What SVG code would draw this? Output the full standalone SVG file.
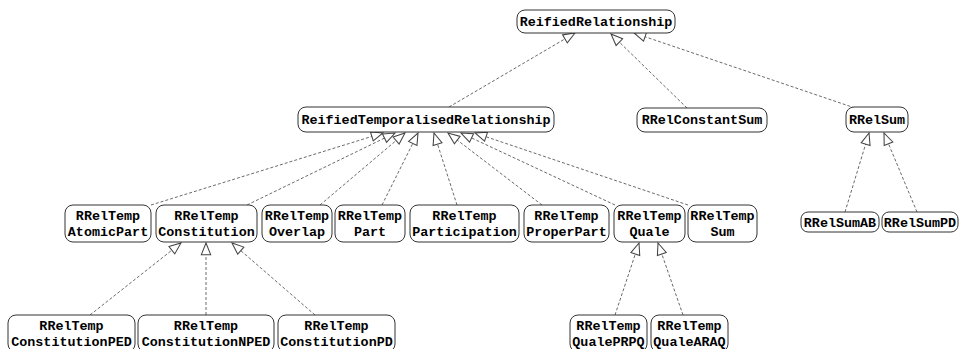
<svg xmlns="http://www.w3.org/2000/svg" width="960" height="349" viewBox="0 0 960 349">
  <style>
    .node rect { fill: #ffffff; stroke: #333333; stroke-width: 1; }
    .node text { font-family: "Liberation Mono", "DejaVu Sans Mono", monospace; font-weight: bold; font-size: 13.4px; fill: #000000; text-anchor: middle; }
    .edge { fill: none; stroke: #444444; stroke-width: 0.8; stroke-dasharray: 3,2; marker-end: url(#hollow); }
  </style>
  <defs>
    <marker id="hollow" markerUnits="userSpaceOnUse" markerWidth="14" markerHeight="12" viewBox="0 0 12 10" refX="11" refY="5" orient="auto">
      <path d="M1,1 L11,5 L1,9 Z" fill="#ffffff" stroke="#444444" stroke-width="0.9"/>
    </marker>
  </defs>

  <!-- inheritance connectors (child to parent) -->
  <g id="edges">
    <path class="edge" d="M449,107 L575,33"/>
    <path class="edge" d="M687,108 L611,34"/>
    <path class="edge" d="M855,108 L634,33"/>

    <path class="edge" d="M151,205 L383,133"/>
    <path class="edge" d="M247,205 L395,133"/>
    <path class="edge" d="M320,205 L405,133"/>
    <path class="edge" d="M382,205 L418,133"/>
    <path class="edge" d="M457,205 L434,133"/>
    <path class="edge" d="M542,205 L448,133"/>
    <path class="edge" d="M615,205 L461,133"/>
    <path class="edge" d="M688,205 L475,133"/>

    <path class="edge" d="M845,212 L869,133"/>
    <path class="edge" d="M917,212 L884,133"/>

    <path class="edge" d="M90,315 L181,243"/>
    <path class="edge" d="M206,315 L206,243"/>
    <path class="edge" d="M315,315 L232,243"/>

    <path class="edge" d="M615,315 L639,243"/>
    <path class="edge" d="M683,315 L658,243"/>
  </g>

  <g id="ReifiedRelationship" class="node">
    <rect x="517" y="10" width="158" height="23" rx="8"/>
    <text x="596" y="26">ReifiedRelationship</text>
  </g>

  <g id="ReifiedTemporalisedRelationship" class="node">
    <rect x="298" y="107" width="256" height="25" rx="8"/>
    <text x="426" y="124">ReifiedTemporalisedRelationship</text>
  </g>
  <g id="RRelConstantSum" class="node">
    <rect x="637" y="108" width="130" height="24" rx="8"/>
    <text x="702" y="124">RRelConstantSum</text>
  </g>
  <g id="RRelSum" class="node">
    <rect x="846" y="107" width="62" height="25" rx="8"/>
    <text x="877" y="124">RRelSum</text>
  </g>

  <g id="RRelTempAtomicPart" class="node">
    <rect x="65" y="205" width="86" height="37" rx="8"/>
    <text x="108" y="220">RRelTemp</text>
    <text x="108" y="236">AtomicPart</text>
  </g>
  <g id="RRelTempConstitution" class="node">
    <rect x="156" y="205" width="101" height="37" rx="8"/>
    <text x="206.5" y="220">RRelTemp</text>
    <text x="206.5" y="236">Constitution</text>
  </g>
  <g id="RRelTempOverlap" class="node">
    <rect x="262" y="205" width="70" height="37" rx="8"/>
    <text x="297" y="220">RRelTemp</text>
    <text x="297" y="236">Overlap</text>
  </g>
  <g id="RRelTempPart" class="node">
    <rect x="335" y="205" width="70" height="37" rx="8"/>
    <text x="370" y="220">RRelTemp</text>
    <text x="370" y="236">Part</text>
  </g>
  <g id="RRelTempParticipation" class="node">
    <rect x="410" y="205" width="109" height="37" rx="8"/>
    <text x="464.5" y="220">RRelTemp</text>
    <text x="464.5" y="236">Participation</text>
  </g>
  <g id="RRelTempProperPart" class="node">
    <rect x="524" y="205" width="85" height="37" rx="8"/>
    <text x="566.5" y="220">RRelTemp</text>
    <text x="566.5" y="236">ProperPart</text>
  </g>
  <g id="RRelTempQuale" class="node">
    <rect x="614" y="205" width="71" height="37" rx="8"/>
    <text x="649.5" y="220">RRelTemp</text>
    <text x="649.5" y="236">Quale</text>
  </g>
  <g id="RRelTempSum" class="node">
    <rect x="688" y="205" width="69" height="37" rx="8"/>
    <text x="722.5" y="220">RRelTemp</text>
    <text x="722.5" y="236">Sum</text>
  </g>

  <g id="RRelSumAB" class="node">
    <rect x="801" y="212" width="78" height="20" rx="7"/>
    <text x="840" y="227">RRelSumAB</text>
  </g>
  <g id="RRelSumPD" class="node">
    <rect x="882" y="212" width="76" height="20" rx="7"/>
    <text x="920" y="227">RRelSumPD</text>
  </g>

  <g id="RRelTempConstitutionPED" class="node">
    <rect x="8" y="315" width="127" height="37" rx="8"/>
    <text x="71.5" y="330">RRelTemp</text>
    <text x="71.5" y="346">ConstitutionPED</text>
  </g>
  <g id="RRelTempConstitutionNPED" class="node">
    <rect x="138" y="315" width="136" height="37" rx="8"/>
    <text x="206" y="330">RRelTemp</text>
    <text x="206" y="346">ConstitutionNPED</text>
  </g>
  <g id="RRelTempConstitutionPD" class="node">
    <rect x="278" y="315" width="117" height="37" rx="8"/>
    <text x="336.5" y="330">RRelTemp</text>
    <text x="336.5" y="346">ConstitutionPD</text>
  </g>

  <g id="RRelTempQualePRPQ" class="node">
    <rect x="570" y="315" width="77" height="37" rx="8"/>
    <text x="608.5" y="330">RRelTemp</text>
    <text x="608.5" y="346">QualePRPQ</text>
  </g>
  <g id="RRelTempQualeARAQ" class="node">
    <rect x="651" y="315" width="77" height="37" rx="8"/>
    <text x="689.5" y="330">RRelTemp</text>
    <text x="689.5" y="346">QualeARAQ</text>
  </g>
</svg>
